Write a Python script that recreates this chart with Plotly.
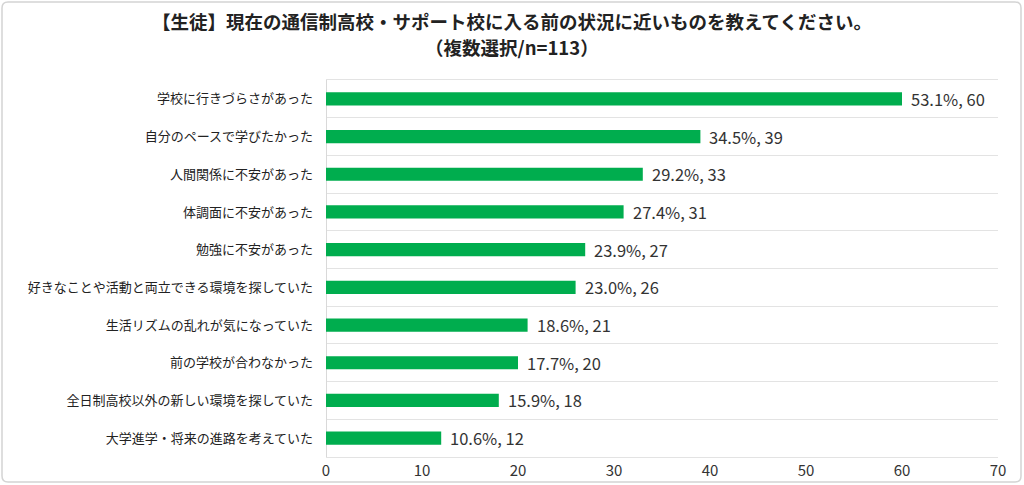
import plotly.graph_objects as go

# data
categories = [
    "学校に行きづらさがあった",
    "自分のペースで学びたかった",
    "人間関係に不安があった",
    "体調面に不安があった",
    "勉強に不安があった",
    "好きなことや活動と両立できる環境を探していた",
    "生活リズムの乱れが気になっていた",
    "前の学校が合わなかった",
    "全日制高校以外の新しい環境を探していた",
    "大学進学・将来の進路を考えていた",
]
counts = [60, 39, 33, 31, 27, 26, 21, 20, 18, 12]
percents = [53.1, 34.5, 29.2, 27.4, 23.9, 23.0, 18.6, 17.7, 15.9, 10.6]
x_ticks = [0, 10, 20, 30, 40, 50, 60, 70]
title_lines = [
    "【生徒】現在の通信制高校・サポート校に入る前の状況に近いものを教えてください。",
    "（複数選択/n=113）",
]

FONT = "Noto Sans CJK JP"
W, H = 1024, 485
ML, MR, MT, MB = 326, 26, 80, 28

labels = ["%.1f%%, %d" % (p, c) for p, c in zip(percents, counts)]

fig = go.Figure()
fig.add_trace(go.Bar(
    x=counts,
    y=categories,
    orientation="h",
    marker=dict(color="#00AD4E", line=dict(width=0)),
    hoverinfo="skip",
))

# value labels placed just right of each bar
for c, cat, lab in zip(counts, categories, labels):
    fig.add_annotation(x=c, y=cat, text=lab, showarrow=False,
                       xanchor="left", xshift=7,
                       font=dict(size=16.5, color="#333333", family=FONT))

# helpers: pixel -> paper coordinates
pw = W - ML - MR
ph = H - MT - MB
def px_x(v):
    return (v - ML) / pw
def px_y(v):
    return (H - MB - v) / ph

for line, ypix in zip(title_lines, [21, 47]):
    fig.add_annotation(x=px_x(512), y=px_y(ypix), xref="paper", yref="paper",
                       text="<b>%s</b>" % line, showarrow=False,
                       xanchor="center", yanchor="middle",
                       font=dict(size=18.5, color="#222222", family=FONT))

# rounded border around the whole chart
x0, x1 = px_x(2), px_x(1021)
y0, y1 = px_y(482), px_y(2)
r = 6
rx, ry = r / pw, r / ph
path = (
    f"M {x0+rx},{y0} L {x1-rx},{y0} Q {x1},{y0} {x1},{y0+ry} "
    f"L {x1},{y1-ry} Q {x1},{y1} {x1-rx},{y1} "
    f"L {x0+rx},{y1} Q {x0},{y1} {x0},{y1-ry} "
    f"L {x0},{y0+ry} Q {x0},{y0} {x0+rx},{y0} Z"
)
fig.add_shape(type="path", path=path, xref="paper", yref="paper",
              line=dict(color="#D4D4D4", width=1.5), layer="below")

fig.update_layout(
    width=W, height=H,
    margin=dict(l=ML, r=MR, t=MT, b=MB, autoexpand=False),
    paper_bgcolor="white",
    plot_bgcolor="white",
    showlegend=False,
    bargap=0.65,
    xaxis=dict(
        range=[0, 70],
        tickvals=x_ticks,
        showgrid=False,
        zeroline=True,
        zerolinecolor="#D9D9D9",
        zerolinewidth=1,
        showline=True,
        mirror=True,
        linecolor="#E3E3E3",
        linewidth=1,
        ticks="",
        automargin=False,
        tickfont=dict(size=15, color="#333333", family=FONT),
    ),
    yaxis=dict(
        autorange="reversed",
        type="category",
        tickson="boundaries",
        showgrid=True,
        gridcolor="#E3E3E3",
        gridwidth=1,
        ticks="",
        automargin=False,
        ticklabelstandoff=12,
        tickfont=dict(size=13, color="#222222", family=FONT),
    ),
)

fig.write_html("out.html", config={"displayModeBar": False},
               post_script="document.body.style.margin='0';")
